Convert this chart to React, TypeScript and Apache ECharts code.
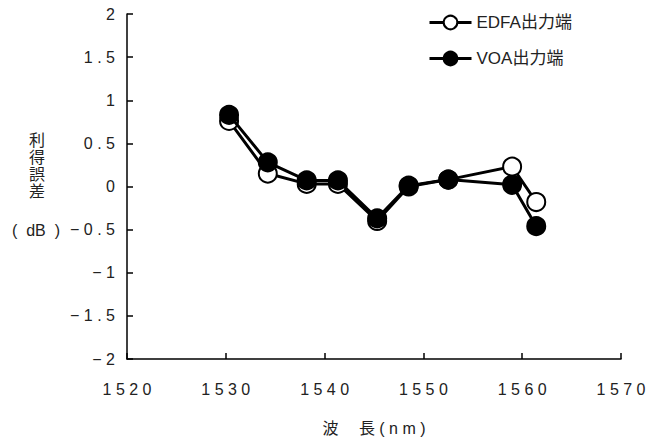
import React, { useEffect, useRef } from "react";
import * as echarts from "echarts";

// wavelength (nm) of each measured channel
const wavelengths = [1530.33, 1534.25, 1538.19, 1541.35, 1545.32, 1548.51, 1552.52, 1558.98, 1561.42];
// gain error (dB) at the EDFA output
const edfaError = [0.76, 0.15, 0.03, 0.03, -0.4, 0.0, 0.08, 0.23, -0.18];
// gain error (dB) at the VOA output
const voaError = [0.83, 0.28, 0.07, 0.07, -0.37, 0.01, 0.08, 0.02, -0.46];

const seriesNames = ["EDFA出力端", "VOA出力端"];
const xTicks = { min: 1520, max: 1570, step: 10 };
const yTicks = { min: -2, max: 2, step: 0.5 };

const FONT = "'Liberation Sans', Arial, 'Noto Sans CJK JP', sans-serif";
const TEXT = "#222";

const spaced = (s: string) => s.split("").join(" ");

export default function App() {
  const ref = useRef<HTMLDivElement>(null);

  useEffect(() => {
    if (!ref.current) return;
    const chart = echarts.init(ref.current, undefined, { renderer: "svg" });
    const pair = (ys: number[]) => wavelengths.map((x, i) => [x, ys[i]]);

    chart.setOption({
      animation: false,
      backgroundColor: "#fff",
      textStyle: { fontFamily: FONT },
      grid: { left: 127, right: 46, top: 14, bottom: 86 },
      legend: {
        orient: "vertical",
        left: 423,
        top: 9,
        itemWidth: 42,
        itemHeight: 17,
        itemGap: 19,
        data: seriesNames,
        lineStyle: { width: 3 },
        textStyle: { fontSize: 17, color: TEXT, fontFamily: FONT },
      },
      xAxis: {
        type: "value",
        min: xTicks.min,
        max: xTicks.max,
        interval: xTicks.step,
        name: "波　 長 ( n m )",
        nameLocation: "middle",
        nameGap: 61,
        nameTextStyle: { fontSize: 16, color: TEXT, fontFamily: FONT },
        axisLine: { onZero: false, lineStyle: { color: "#000", width: 1.5 } },
        axisTick: { inside: true, length: 6, lineStyle: { color: "#000", width: 1.5 } },
        axisLabel: {
          margin: 22,
          fontSize: 16,
          color: TEXT,
          formatter: (v: number) => spaced(String(v)),
        },
        splitLine: { show: false },
      },
      yAxis: {
        type: "value",
        min: yTicks.min,
        max: yTicks.max,
        interval: yTicks.step,
        axisLine: { show: true, onZero: false, lineStyle: { color: "#000", width: 1.5 } },
        axisTick: { show: true, inside: true, length: 6, lineStyle: { color: "#000", width: 1.5 } },
        axisLabel: {
          margin: 12,
          fontSize: 16,
          color: TEXT,
          formatter: (v: number) => spaced(String(v).replace("-", "−")),
        },
        splitLine: { show: false },
      },
      graphic: [
        {
          type: "text",
          left: 29,
          top: 132,
          style: {
            text: "利\n得\n誤\n差",
            font: `16px ${FONT}`,
            lineHeight: 17,
            fill: TEXT,
          },
        },
        {
          type: "text",
          left: 12,
          top: 222,
          style: { text: "(  dB  )", font: `16px ${FONT}`, fill: TEXT },
        },
      ],
      series: [
        {
          name: seriesNames[0],
          type: "line",
          data: pair(edfaError),
          symbol: "circle",
          symbolSize: 18,
          lineStyle: { color: "#000", width: 3 },
          itemStyle: { color: "#fff", borderColor: "#000", borderWidth: 2 },
          z: 2,
        },
        {
          name: seriesNames[1],
          type: "line",
          data: pair(voaError),
          symbol: "circle",
          symbolSize: 18,
          lineStyle: { color: "#000", width: 3 },
          itemStyle: { color: "#000", borderColor: "#000", borderWidth: 2 },
          z: 3,
        },
      ],
    });

    return () => chart.dispose();
  }, []);

  return <div ref={ref} style={{ width: 667, height: 445, position: "absolute", left: 0, top: 0 }} />;
}
